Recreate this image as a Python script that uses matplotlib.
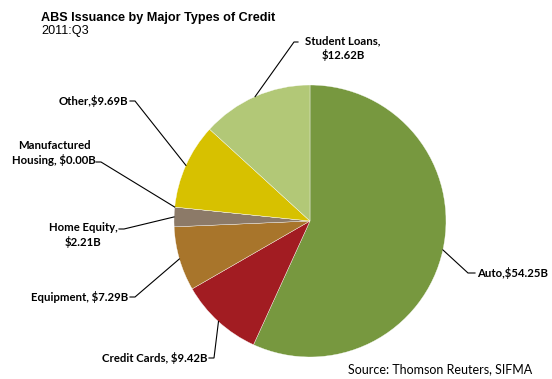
import matplotlib
matplotlib.use("Agg")
import matplotlib.pyplot as plt
import numpy as np

categories = ["Auto", "Credit Cards", "Equipment", "Home Equity",
              "Manufactured Housing", "Other", "Student Loans"]
values = [54.25, 9.42, 7.29, 2.21, 0.00, 9.69, 12.62]
label_texts = ["Auto,$54.25B", "Credit Cards, $9.42B", "Equipment, $7.29B",
               "Home Equity,\n$2.21B", "Manufactured\nHousing, $0.00B",
               "Other,$9.69B", "Student Loans,\n$12.62B"]
colors = ["#77983F", "#A21C22", "#A8752B", "#8C7A68", "#9BBB59", "#D7C100", "#B2C877"]

W, H = 552, 379
fig = plt.figure(figsize=(W / 100, H / 100), dpi=100)
ax = fig.add_axes([0, 0, 1, 1])
ax.set_xlim(0, W)
ax.set_ylim(0, H)
ax.set_aspect("equal")
ax.axis("off")

cx, cy, r = 310, 221, 136
wedges, _ = ax.pie(values, colors=colors, startangle=90, counterclock=False,
                   center=(cx, H - cy), radius=r,
                   wedgeprops=dict(edgecolor="white", linewidth=0.25))
ax.set_xlim(0, W)
ax.set_ylim(0, H)

lab_font = dict(family=["Lato", "DejaVu Sans"], fontsize=8.2, fontweight="bold", color="#000000")

# (text x, text y (top-down), ha, leader start x, leader start y, elbow x)
layout = {
    "Auto": (477, 273, "left", 475, 273, 468),
    "Credit Cards": (207, 358, "right", 209, 358, 214),
    "Equipment": (128, 297, "right", 130, 297, 135),
    "Home Equity": (83, 235, "center", 119, 229, 124),
    "Manufactured Housing": (54, 153, "center", 96, 162, 101),
    "Other": (128, 101, "right", 130, 101, 135),
    "Student Loans": (343, 48, "center", 298, 42, 294),
}

for w, cat, txt in zip(wedges, categories, label_texts):
    tx, ty, ha, sx, sy, ex = layout[cat]
    ax.text(tx, H - ty, txt, ha=ha, va="center", linespacing=1.3, **lab_font)
    mid = np.deg2rad((w.theta1 + w.theta2) / 2)
    px = cx + r * np.cos(mid)
    py = (H - cy) + r * np.sin(mid)
    ax.plot([sx, ex, px], [H - sy, H - sy, py], color="#000000", lw=0.8,
            solid_joinstyle="miter")

ax.text(41, H - 21, "ABS Issuance by Major Types of Credit", ha="left", va="baseline",
        family="Liberation Sans", fontsize=9.1, fontweight="bold")
ax.text(41, H - 34, "2011:Q3", ha="left", va="baseline",
        family="Liberation Sans", fontsize=9.1)
ax.text(532, H - 369, "Source: Thomson Reuters, SIFMA", ha="right", va="center",
        family=["Lato", "DejaVu Sans"], fontsize=9.0)

fig.savefig("out.png", dpi=100)
